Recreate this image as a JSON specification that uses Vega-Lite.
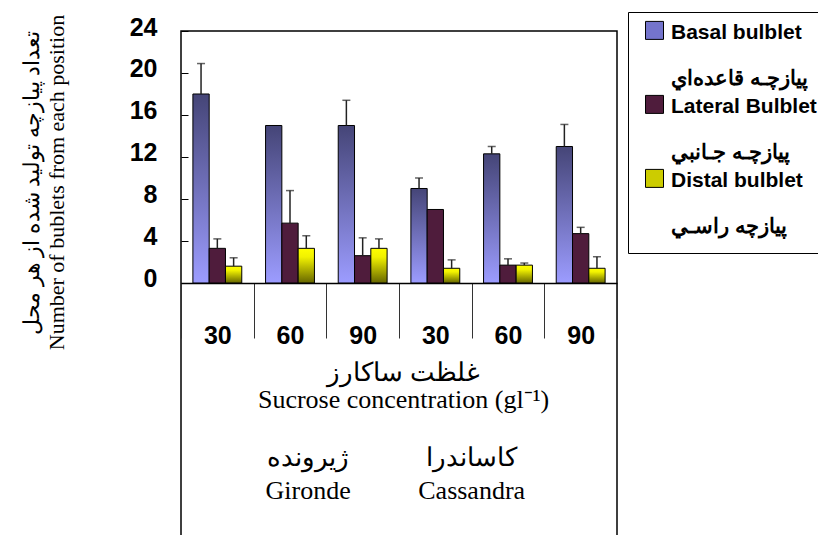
{
  "$schema": "https://vega.github.io/schema/vega-lite/v6.json",
  "width": 436,
  "height": 505,
  "autosize": {"type": "none"},
  "padding": {"left": 181, "top": 31, "right": 201, "bottom": 0},
  "background": "white",
  "config": {"view": {"stroke": "black", "strokeWidth": 1.5}, "axis": {"grid": false}},
  "datasets": {
    "bulblets": [
      {"cat": "G30", "series": "Basal", "value": 18.0, "upper": 20.9},
      {"cat": "G30", "series": "Lateral", "value": 3.3, "upper": 4.2},
      {"cat": "G30", "series": "Distal", "value": 1.6, "upper": 2.4},
      {"cat": "G60", "series": "Basal", "value": 15.0, "upper": null},
      {"cat": "G60", "series": "Lateral", "value": 5.7, "upper": 8.8},
      {"cat": "G60", "series": "Distal", "value": 3.3, "upper": 4.5},
      {"cat": "G90", "series": "Basal", "value": 15.0, "upper": 17.4},
      {"cat": "G90", "series": "Lateral", "value": 2.6, "upper": 4.3},
      {"cat": "G90", "series": "Distal", "value": 3.3, "upper": 4.2},
      {"cat": "C30", "series": "Basal", "value": 9.0, "upper": 10.0},
      {"cat": "C30", "series": "Lateral", "value": 7.0, "upper": null},
      {"cat": "C30", "series": "Distal", "value": 1.4, "upper": 2.2},
      {"cat": "C60", "series": "Basal", "value": 12.3, "upper": 13.0},
      {"cat": "C60", "series": "Lateral", "value": 1.7, "upper": 2.3},
      {"cat": "C60", "series": "Distal", "value": 1.7, "upper": 1.9},
      {"cat": "C90", "series": "Basal", "value": 13.0, "upper": 15.1},
      {"cat": "C90", "series": "Lateral", "value": 4.7, "upper": 5.3},
      {"cat": "C90", "series": "Distal", "value": 1.4, "upper": 2.5}
    ]
  },
  "layer": [
    {
      "data": {"name": "bulblets"},
      "mark": {"type": "bar", "stroke": "black", "strokeWidth": 1},
      "encoding": {
        "x": {
          "field": "cat", "type": "nominal",
          "scale": {"domain": ["G30", "G60", "G90", "C30", "C60", "C90"], "paddingInner": 0, "paddingOuter": 0},
          "axis": {
            "title": ["غلظت ساکارز", "Sucrose concentration (gl⁻¹)"],
            "titleFont": "Liberation Serif", "titleFontSize": 26, "titleFontWeight": "normal", "titleColor": "black",
            "titleLineHeight": 27, "titleX": 222, "titleY": 76, "titleBaseline": "top", "titleAlign": "center",
            "offset": -253, "tickBand": "extent", "tickSize": 55, "tickColor": "#333", "tickWidth": 1,
            "domainColor": "black", "domainWidth": 1.5,
            "labelAngle": 0, "labelExpr": "substring(datum.label, 1)",
            "labelFont": "Liberation Sans", "labelFontWeight": "bold", "labelFontSize": 25, "labelColor": "black",
            "labelBaseline": "top", "labelPadding": -15
          }
        },
        "xOffset": {"field": "series", "type": "nominal", "sort": ["Basal", "Lateral", "Distal"], "scale": {"paddingInner": 0, "paddingOuter": 0.73}},
        "y": {
          "field": "value", "type": "quantitative",
          "scale": {"domain": [-24.1, 24], "nice": false, "zero": false},
          "axis": {
            "title": ["تعداد پیازچه تولید شده از هر محل", "Number of bublets from each position"],
            "titleFont": "Liberation Serif", "titleFontSize": 22, "titleFontWeight": "normal", "titleColor": "black",
            "titleLineHeight": 25, "titleX": -138, "titleY": 151, "titleBaseline": "bottom", "titleAlign": "center",
            "values": [0, 4, 8, 12, 16, 20, 24], "domain": false,
            "tickSize": -7, "tickColor": "black", "tickWidth": 1,
            "labelFont": "Liberation Sans", "labelFontWeight": "bold", "labelFontSize": 25, "labelColor": "black",
            "labelPadding": 31, "labelOffset": -4
          }
        },
        "fill": {
          "field": "series", "type": "nominal",
          "scale": {"domain": ["Basal", "Lateral", "Distal"], "range": ["#7474cc", "#4f1c3c", "#cccc00"]},
          "condition": [
            {"test": "datum.series === 'Basal'", "value": {"gradient": "linear", "x1": 0, "y1": 0, "x2": 0, "y2": 1, "stops": [{"offset": 0, "color": "#454577"}, {"offset": 1, "color": "#9c9cff"}]}},
            {"test": "datum.series === 'Distal'", "value": {"gradient": "linear", "x1": 0, "y1": 0, "x2": 0, "y2": 1, "stops": [{"offset": 0, "color": "#ffff00"}, {"offset": 0.25, "color": "#f2f200"}, {"offset": 1, "color": "#666600"}]}}
          ],
          "legend": {
            "title": null, "orient": "none", "legendX": 447, "legendY": -19,
            "strokeColor": "black", "fillColor": "white", "padding": 16,
            "symbolType": "M-1,-1.9H1V0.1H-1Z", "symbolSize": 324, "symbolStrokeColor": "black", "symbolStrokeWidth": 1, "symbolOpacity": 1,
            "labelBaseline": "alphabetic", "labelFont": "Liberation Sans", "labelFontWeight": "bold", "labelFontSize": 21,
            "labelColor": "black", "labelLimit": 400, "labelOffset": 6, "rowPadding": 4,
            "labelExpr": "datum.label == 'Basal' ? ['Basal bulblet', '\u2800', 'پيازچـه قاعده\u200cاي'] : datum.label == 'Lateral' ? ['Lateral Bulblet', '\u2800', 'پيازچـه جـانبي'] : ['Distal bulblet', '\u2800', 'پيازچه راسـي']"
          }
        }
      }
    },
    {
      "data": {"name": "bulblets"},
      "transform": [{"filter": "isValid(datum.upper)"}],
      "mark": {"type": "rule", "color": "#222", "strokeWidth": 1.5},
      "encoding": {
        "x": {"field": "cat", "type": "nominal"},
        "xOffset": {"field": "series", "type": "nominal", "sort": ["Basal", "Lateral", "Distal"]},
        "y": {"field": "value", "type": "quantitative"},
        "y2": {"field": "upper"}
      }
    },
    {
      "data": {"name": "bulblets"},
      "transform": [{"filter": "isValid(datum.upper)"}],
      "mark": {"type": "tick", "color": "#222", "thickness": 1.5, "size": 8},
      "encoding": {
        "x": {"field": "cat", "type": "nominal"},
        "xOffset": {"field": "series", "type": "nominal", "sort": ["Basal", "Lateral", "Distal"]},
        "y": {"field": "upper", "type": "quantitative"}
      }
    },
    {
      "data": {"values": [{"cat": "G60", "label": "ژیرونده\nGironde"}]},
      "mark": {"type": "text", "font": "Liberation Serif", "fontSize": 26, "lineBreak": "\n", "lineHeight": 33, "baseline": "alphabetic", "align": "center", "color": "black"},
      "encoding": {
        "x": {"field": "cat", "type": "nominal", "bandPosition": 0.75},
        "y": {"datum": -17.4},
        "text": {"field": "label"}
      }
    },
    {
      "data": {"values": [{"cat": "C60", "label": "کاساندرا\nCassandra"}]},
      "mark": {"type": "text", "font": "Liberation Serif", "fontSize": 26, "lineBreak": "\n", "lineHeight": 33, "baseline": "alphabetic", "align": "center", "color": "black"},
      "encoding": {
        "x": {"field": "cat", "type": "nominal", "bandPosition": 0},
        "y": {"datum": -17.4},
        "text": {"field": "label"}
      }
    }
  ]
}
